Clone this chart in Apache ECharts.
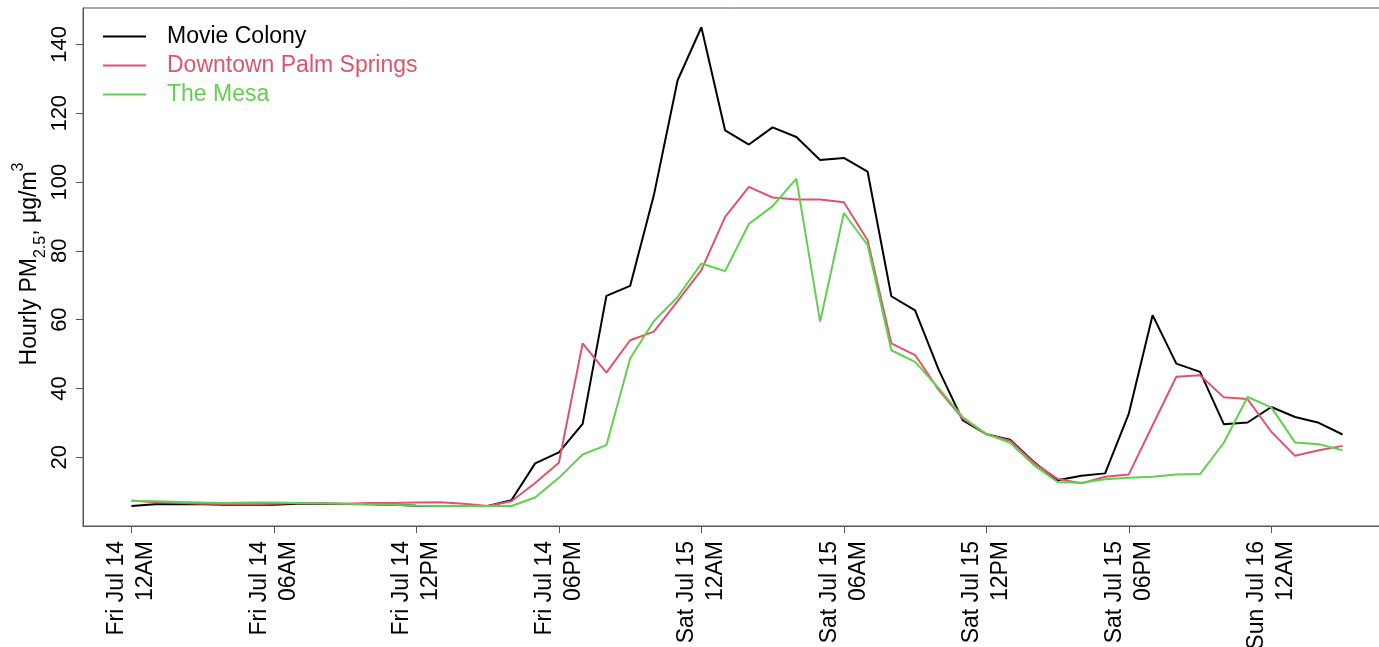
<!DOCTYPE html>
<html>
<head>
<meta charset="utf-8">
<script src="https://cdn.jsdelivr.net/npm/echarts@6/dist/echarts.min.js"></script>
<style>
  html, body { margin: 0; padding: 0; background: #fff; }
  #chart { width: 1379px; height: 647px; }
</style>
</head>
<body>
<div id="chart"></div>
<script>
// hourly readings, Fri Jul 14 12AM -> Sun Jul 16 03AM
const movieColony = [5.8, 6.3, 6.4, 6.3, 6.2, 6.2, 6.2, 6.5, 6.5, 6.4, 6.3, 6.2, 5.9, 5.8, 5.8, 5.8,
  7.5, 18.2, 21.4, 29.7, 66.9, 69.8, 96.2, 129.6, 145,
  115, 110.9, 115.9, 113.1, 106.4, 107, 103, 66.8, 62.7, 45.3, 30.8,
  26.7, 25.1, 18.6, 13.3, 14.6, 15.3, 32.7, 61.3, 47.2, 44.8, 29.6, 30.1, 34.6, 31.7, 30, 26.6]
const downtown = [7.4, 6.9, 6.7, 6.5, 6.4, 6.3, 6.5, 6.7, 6.6, 6.5, 6.7, 6.7, 6.8, 6.9, 6.5, 5.8,
  7.2, 12.5, 18.4, 53.1, 44.6, 54, 56.5, 65.4, 74.4,
  89.9, 98.6, 95.5, 94.9, 94.9, 94.1, 83.1, 53.1, 49.7, 39.5, 31.3,
  26.7, 24.8, 18.4, 13.7, 12.4, 14.3, 15, 29.3, 43.4, 43.8, 37.4, 36.9, 27.4, 20.4, 22, 23.3]
const mesa = [7.3, 7.2, 7.0, 6.8, 6.7, 6.8, 6.8, 6.7, 6.6, 6.5, 6.3, 6.2, 5.9, 5.8, 5.8, 5.8,
  5.8, 8.3, 14, 20.8, 23.5, 48.7, 59.6, 66.6, 76.3,
  74.1, 87.8, 93, 101, 59.4, 91, 81.7, 51.1, 47.7, 40, 31.7,
  26.7, 24.2, 17.7, 12.8, 12.6, 13.6, 14, 14.3, 15, 15.1, 24.2, 37.5, 34.5, 24.3, 23.8, 22]

const seriesNames = ['Movie Colony', 'Downtown Palm Springs', 'The Mesa']
const seriesColors = ['#000000', '#DF536B', '#61D04F']

const tickHours = [0, 6, 12, 18, 24, 30, 36, 42, 48]
const tickLabels = ['Fri Jul 14\n12AM', 'Fri Jul 14\n06AM', 'Fri Jul 14\n12PM', 'Fri Jul 14\n06PM',
  'Sat Jul 15\n12AM', 'Sat Jul 15\n06AM', 'Sat Jul 15\n12PM', 'Sat Jul 15\n06PM', 'Sun Jul 16\n12AM']
const yTicks = [20, 40, 60, 80, 100, 120, 140]

const font = '"Liberation Sans", Arial, sans-serif'
const axisGray = '#555'

const chart = echarts.init(document.getElementById('chart'))

const toPairs = arr => arr.map((v, i) => [i, v])

const option = {
  animation: false,
  textStyle: { fontFamily: font },
  grid: {
    left: 83,
    top: 8,
    right: -12,
    bottom: 121,
    outerBoundsMode: 'none',
    containLabel: false,
    show: true,
    borderColor: axisGray,
    borderWidth: 1
  },
  legend: {
    orient: 'vertical',
    left: 103,
    top: 25,
    padding: 0,
    itemWidth: 43,
    itemHeight: 2,
    itemGap: 6,
    icon: 'rect',
    textStyle: { fontSize: 23, lineHeight: 22, fontFamily: font, padding: [0, 0, 0, 16] },
    data: seriesNames.map((n, i) => ({ name: n, textStyle: { color: seriesColors[i] } }))
  },
  xAxis: {
    type: 'value',
    min: -2.04,
    max: 53.04,
    splitLine: { show: false },
    axisLine: { show: true, onZero: false, lineStyle: { color: axisGray } },
    axisTick: {
      show: true,
      length: 7,
      customValues: tickHours,
      lineStyle: { color: axisGray }
    },
    axisLabel: {
      rotate: 90,
      margin: 15,
      fontSize: 23,
      lineHeight: 29,
      color: '#000',
      fontFamily: font,
      customValues: tickHours,
      formatter: v => tickLabels[tickHours.indexOf(v)] || ''
    }
  },
  yAxis: {
    type: 'value',
    min: 0,
    max: 150.6,
    splitLine: { show: false },
    axisLine: { show: true, onZero: false, lineStyle: { color: axisGray } },
    axisTick: {
      show: true,
      length: 7,
      customValues: yTicks,
      lineStyle: { color: axisGray }
    },
    axisLabel: {
      rotate: 90,
      margin: 12,
      fontSize: 22,
      color: '#000',
      fontFamily: font,
      customValues: yTicks
    },
    name: 'Hourly PM{sub|2.5}, μg/m{sup|3}',
    nameLocation: 'middle',
    nameRotate: 90,
    nameGap: 34,
    nameMoveOverlap: false,
    nameTextStyle: {
      fontSize: 23,
      lineHeight: 38,
      color: '#000',
      fontFamily: font,
      padding: [0, 0, 0, 6],
      rich: {
        sub: { fontSize: 16, lineHeight: 29, verticalAlign: 'bottom', color: '#000', fontFamily: font },
        sup: { fontSize: 16, lineHeight: 12, verticalAlign: 'top', color: '#000', fontFamily: font }
      }
    }
  },
  series: [movieColony, downtown, mesa].map((d, i) => ({
    name: seriesNames[i],
    type: 'line',
    data: toPairs(d),
    symbol: 'none',
    color: seriesColors[i],
    lineStyle: { color: seriesColors[i], width: 2 }
  }))
}

chart.setOption(option)
</script>
</body>
</html>
